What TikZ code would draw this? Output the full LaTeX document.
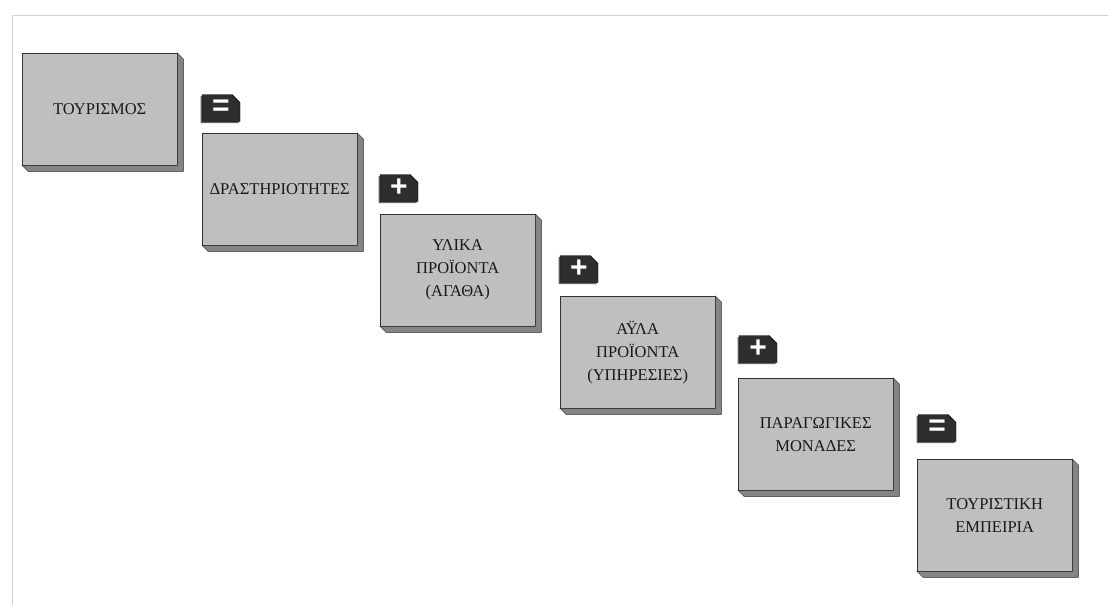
\documentclass[tikz,border=0pt]{standalone}
\usepackage{fontspec}
\setmainfont{Liberation Serif}
\setsansfont{Liberation Sans}
\usetikzlibrary{shapes.misc,shadows}

\begin{document}
\begin{tikzpicture}[
  x=1pt,y=-1pt,
  font=\fontsize{16.5}{23}\selectfont,
  blockbox/.style={draw=black!80,thin,fill=black!25,anchor=north west,
                   minimum width=155pt,minimum height=112pt,
                   inner sep=0pt,align=center,text=black!90},
  blockside/.style={draw=black!85,thin,fill=black!48},
  opbox/.style={chamfered rectangle,chamfered rectangle corners=north east,
                chamfered rectangle xsep=4pt,chamfered rectangle ysep=4pt,
                fill=black!82,draw=black,minimum width=38pt,minimum height=27pt,
                inner sep=0pt,text=white,
                font=\sffamily\bfseries\fontsize{30}{30}\selectfont,
                drop shadow={shadow xshift=-1.5pt,shadow yshift=-1.5pt,
                             fill=black!60,opacity=1}},
  frameline/.style={draw=black!18,thin},
]

% page frame
\useasboundingbox (0,0) rectangle (1108,605);
\draw[frameline] (12,605) -- (12,15) -- (1108,15);

% ---- the staircase of blocks ----
\node[blockbox] (tour)  at (22,53)   {ΤΟΥΡΙΣΜΟΣ};
\node[blockbox] (drast) at (202,133) {ΔΡΑΣΤΗΡΙΟΤΗΤΕΣ};
\node[blockbox] (ylika) at (380,214) {ΥΛΙΚΑ\\ΠΡΟΪΟΝΤΑ\\(ΑΓΑΘΑ)};
\node[blockbox] (ayla)  at (560,296) {ΑΫΛΑ\\ΠΡΟΪΟΝΤΑ\\(ΥΠΗΡΕΣΙΕΣ)};
\node[blockbox] (parag) at (738,378) {ΠΑΡΑΓΩΓΙΚΕΣ\\ΜΟΝΑΔΕΣ};
\node[blockbox] (exper) at (917,459) {ΤΟΥΡΙΣΤΙΚΗ\\ΕΜΠΕΙΡΙΑ};

% depth of each block, right and bottom faces
\foreach \b in {tour,drast,ylika,ayla,parag,exper}{
  \filldraw[blockside] (\b.north east) -- ++(6,6)
      -- ([shift={(6,6)}]\b.south east) -- ([shift={(6,6)}]\b.south west)
      -- (\b.south west) -- (\b.south east) -- cycle;
}

% ---- operators between the blocks ----
\node[opbox] (eqa)  at (221,108) {=};
\node[opbox] (plsa) at (399,188) {+};
\node[opbox] (plsb) at (579,269) {+};
\node[opbox] (plsc) at (758,349) {+};
\node[opbox] (eqb)  at (937,428) {=};

\end{tikzpicture}
\end{document}
